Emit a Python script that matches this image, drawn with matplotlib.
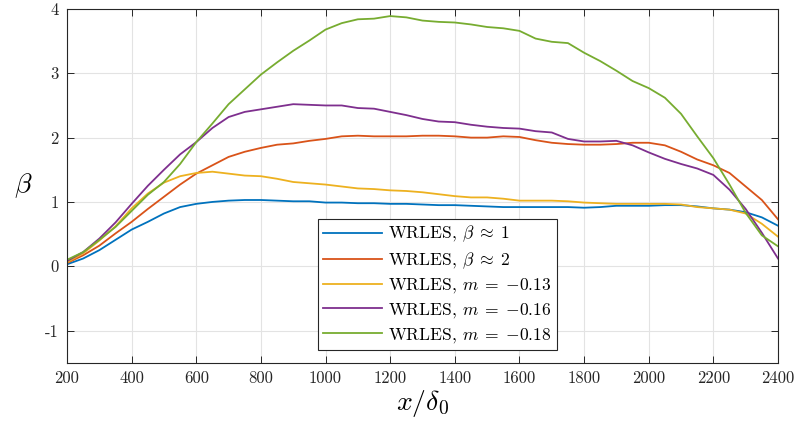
import numpy as np
import matplotlib
matplotlib.use("Agg")
import matplotlib.pyplot as plt

plt.rcParams["font.family"] = "serif"
plt.rcParams["font.serif"] = ["cmr10"]
plt.rcParams["mathtext.fontset"] = "cm"
plt.rcParams["axes.unicode_minus"] = False
plt.rcParams["axes.formatter.use_mathtext"] = False

# streamwise stations x/delta_0
x = np.arange(200, 2401, 50)

beta_1 = [0.03, 0.12, 0.25, 0.41, 0.57, 0.69, 0.82, 0.92, 0.97, 1.00,
          1.02, 1.03, 1.03, 1.02, 1.01, 1.01, 0.99, 0.99, 0.98, 0.98,
          0.97, 0.97, 0.96, 0.95, 0.95, 0.94, 0.93, 0.92, 0.92, 0.92,
          0.92, 0.92, 0.91, 0.92, 0.94, 0.94, 0.94, 0.95, 0.95, 0.93,
          0.90, 0.88, 0.84, 0.76, 0.63]
beta_2 = [0.05, 0.17, 0.32, 0.51, 0.69, 0.89, 1.08, 1.27, 1.44, 1.57,
          1.70, 1.78, 1.84, 1.89, 1.91, 1.95, 1.98, 2.02, 2.03, 2.02,
          2.02, 2.02, 2.03, 2.03, 2.02, 2.00, 2.00, 2.02, 2.01, 1.96,
          1.92, 1.90, 1.89, 1.89, 1.90, 1.92, 1.92, 1.88, 1.78, 1.66,
          1.57, 1.45, 1.24, 1.03, 0.73]
m_013 = [0.06, 0.20, 0.40, 0.62, 0.90, 1.13, 1.30, 1.40, 1.45, 1.47,
         1.44, 1.41, 1.40, 1.36, 1.31, 1.29, 1.27, 1.24, 1.21, 1.20,
         1.18, 1.17, 1.15, 1.12, 1.09, 1.07, 1.07, 1.05, 1.02, 1.02,
         1.02, 1.01, 0.99, 0.98, 0.97, 0.97, 0.97, 0.97, 0.96, 0.92,
         0.90, 0.88, 0.82, 0.66, 0.46]
m_016 = [0.08, 0.22, 0.43, 0.68, 0.97, 1.25, 1.50, 1.74, 1.93, 2.15,
         2.32, 2.40, 2.44, 2.48, 2.52, 2.51, 2.50, 2.50, 2.46, 2.45,
         2.40, 2.35, 2.29, 2.25, 2.24, 2.20, 2.17, 2.15, 2.14, 2.10,
         2.08, 1.98, 1.94, 1.94, 1.95, 1.88, 1.77, 1.67, 1.59, 1.52,
         1.42, 1.19, 0.89, 0.52, 0.12]
m_018 = [0.10, 0.22, 0.41, 0.61, 0.86, 1.11, 1.31, 1.59, 1.93, 2.22,
         2.52, 2.75, 2.98, 3.17, 3.35, 3.51, 3.68, 3.78, 3.84, 3.85,
         3.89, 3.87, 3.82, 3.80, 3.79, 3.76, 3.72, 3.70, 3.66, 3.54,
         3.49, 3.47, 3.32, 3.19, 3.04, 2.88, 2.77, 2.62, 2.37, 2.02,
         1.68, 1.27, 0.83, 0.48, 0.31]

labels = [r"WRLES, $\beta\;\approx\;1$",
          r"WRLES, $\beta\;\approx\;2$",
          r"WRLES, $m\;=\;{-}0.13$",
          r"WRLES, $m\;=\;{-}0.16$",
          r"WRLES, $m\;=\;{-}0.18$"]
colors = ["#0072BD", "#D95319", "#EDB120", "#7E2F8E", "#77AC30"]

fig = plt.figure(figsize=(7.95, 4.3), dpi=100)
ax = fig.add_axes([67 / 795, 1 - 362.7 / 430, 711 / 795, 353.7 / 430])

for y, lab, c in zip([beta_1, beta_2, m_013, m_016, m_018], labels, colors):
    ax.plot(x, y, color=c, lw=1.3, label=lab)

ax.set_xlim(200, 2400)
ax.set_ylim(-1.5, 4)
ax.set_xticks(np.arange(200, 2401, 200))
ax.set_yticks([-1, 0, 1, 2, 3, 4])
ax.grid(True, color="#e3e3e3", lw=0.8)
ax.set_axisbelow(True)

for s in ax.spines.values():
    s.set_color("#262626")
    s.set_linewidth(0.8)
ax.tick_params(direction="in", length=5, width=0.7, top=True, right=True,
               colors="#262626", labelsize=12, pad=6)
for t in ax.get_xticklabels() + ax.get_yticklabels():
    t.set_color("#262626")

ax.set_xlabel(r"$x/\delta_0$", fontsize=20, labelpad=1)
ax.set_ylabel(r"$\beta$", fontsize=20, rotation=0, ha="center", va="center")
ax.yaxis.set_label_coords(-0.062, 0.50)

leg = ax.legend(loc="lower center", bbox_to_anchor=(0.521, 0.036),
                borderaxespad=0, fontsize=12.6, fancybox=False,
                framealpha=1, edgecolor="#262626", handlelength=3.4,
                handletextpad=0.35, labelspacing=0.33, borderpad=0.3)
leg.get_frame().set_linewidth(0.8)

fig.savefig("out.png", dpi=100)
